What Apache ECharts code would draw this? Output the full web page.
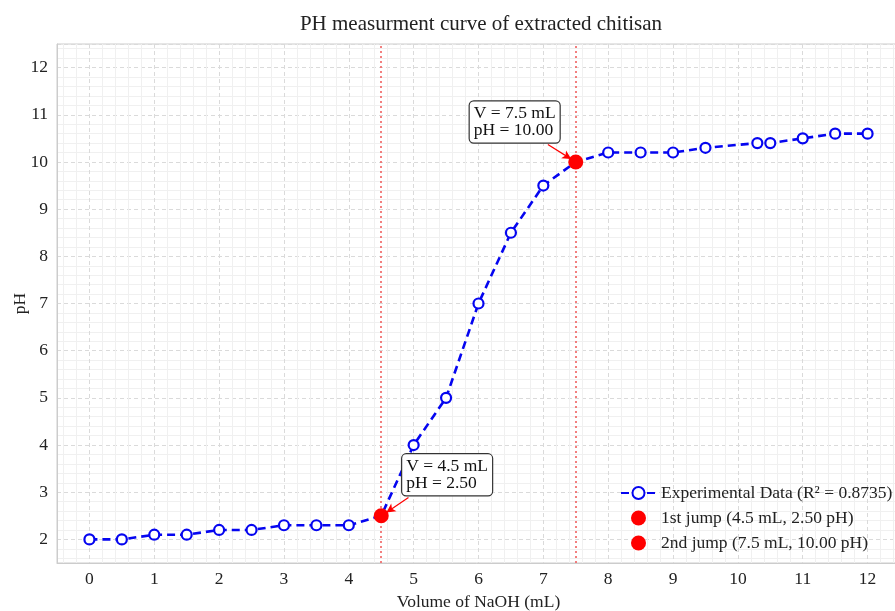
<!DOCTYPE html>
<html>
<head>
<meta charset="utf-8">
<script src="https://cdn.jsdelivr.net/npm/echarts@6/dist/echarts.min.js"></script>
<style>
  html, body { margin: 0; padding: 0; background: #fff; }
  #chart { width: 895px; height: 611px; }
</style>
</head>
<body>
<div id="chart"></div>
<script>
// NaOH volume (mL) and measured pH
const volumes = [0, 0.5, 1, 1.5, 2, 2.5, 3, 3.5, 4, 4.5, 5, 5.5, 6, 6.5, 7, 7.5, 8, 8.5, 9, 9.5, 10.3, 10.5, 11, 11.5, 12];
const phValues = [2.0, 2.0, 2.1, 2.1, 2.2, 2.2, 2.3, 2.3, 2.3, 2.5, 4.0, 5.0, 7.0, 8.5, 9.5, 10.0, 10.2, 10.2, 10.2, 10.3, 10.4, 10.4, 10.5, 10.6, 10.6];

// jump points [volume, pH]
const jump1 = [4.5, 2.5];
const jump2 = [7.5, 10.0];

// arrow anchors (data units): [from, to]
const arrow1 = [[4.92, 2.89], [4.58, 2.57]];
const arrow2 = [[7.07, 10.37], [7.43, 10.06]];

const serif = "'Liberation Serif', 'Times New Roman', serif";
const textColor = "#222";
const fs = 17.5;

let chart = echarts.init(document.getElementById("chart"));

function boxLabel(p, offset) {
  return {
    show: true,
    position: "inside",
    offset: offset,
    formatter: "V = " + p[0].toFixed(1) + " mL\npH = " + p[1].toFixed(2),
    fontFamily: serif,
    fontSize: fs,
    lineHeight: 17,
    color: "#111",
    align: "left",
    backgroundColor: "#fff",
    borderColor: "#333",
    borderWidth: 1.2,
    borderRadius: 4,
    padding: [4, 4, 3, 4],
  };
}

function arrowLine(a) {
  return [
    { coord: a[0], symbol: "none" },
    { coord: a[1], symbol: "arrow", symbolSize: [7, 9] },
  ];
}

let option = {
  animation: false,
  backgroundColor: "#fff",
  title: {
    text: "PH measurment curve of extracted chitisan",
    left: 476,
    textAlign: "center",
    top: 9,
    textStyle: { fontFamily: serif, fontSize: 21, fontWeight: "normal", color: textColor },
  },
  grid: {
    left: 57,
    top: 44,
    right: -5,
    bottom: 48,
    outerBoundsMode: "none",
    containLabel: false,
    show: true,
    borderColor: "#ccc",
    borderWidth: 1,
  },
  legend: {
    orient: "vertical",
    left: 620,
    top: 484,
    padding: 0,
    itemWidth: 35,
    itemHeight: 15,
    itemGap: 7,
    textStyle: { fontFamily: serif, fontSize: fs, color: textColor },
    data: [
      { name: "Experimental Data (R² = 0.8735)" },
      { name: "1st jump (4.5 mL, 2.50 pH)", icon: "circle" },
      { name: "2nd jump (7.5 mL, 10.00 pH)", icon: "circle" },
    ],
  },
  xAxis: {
    type: "value",
    min: -0.5,
    max: 12.5,
    splitNumber: 13,
    name: "Volume of NaOH (mL)",
    nameLocation: "middle",
    nameGap: 30,
    nameTextStyle: { fontFamily: serif, fontSize: fs, color: textColor },
    axisLine: { show: true, onZero: false, lineStyle: { color: "#ccc" } },
    axisTick: { show: false },
    axisLabel: {
      margin: 7,
      fontFamily: serif,
      fontSize: fs,
      color: textColor,
      formatter: (v) => (Number.isInteger(v) ? String(v) : ""),
    },
    splitLine: { show: true, lineStyle: { color: "#dadada", type: [4, 3], width: 1 } },
    minorTick: { show: false, splitNumber: 5 },
    minorSplitLine: { show: true, lineStyle: { color: "#f0f0f0", width: 1 } },
  },
  yAxis: {
    type: "value",
    min: 1.5,
    max: 12.5,
    splitNumber: 11,
    name: "pH",
    nameLocation: "middle",
    nameGap: 28,
    nameMoveOverlap: false,
    nameTextStyle: { fontFamily: serif, fontSize: fs, color: textColor },
    axisLine: { show: true, onZero: false, lineStyle: { color: "#ccc" } },
    axisTick: { show: false },
    axisLabel: {
      margin: 9,
      fontFamily: serif,
      fontSize: fs,
      color: textColor,
      formatter: (v) => (Number.isInteger(v) ? String(v) : ""),
    },
    splitLine: { show: true, lineStyle: { color: "#dadada", type: [4, 3], width: 1 } },
    minorTick: { show: false, splitNumber: 5 },
    minorSplitLine: { show: true, lineStyle: { color: "#f0f0f0", width: 1 } },
  },
  series: [
    {
      name: "Experimental Data (R² = 0.8735)",
      type: "line",
      data: volumes.map((v, i) => [v, phValues[i]]),
      symbol: "circle",
      symbolSize: 10,
      showAllSymbol: true,
      lineStyle: { color: "#0505f0", width: 2.6, type: [8, 5] },
      itemStyle: { color: "#fff", borderColor: "#0505f0", borderWidth: 2.2 },
      z: 3,
      markLine: {
        silent: true,
        symbol: "none",
        label: { show: false },
        lineStyle: { color: "#f06060", type: [2, 3], width: 1.6 },
        data: [{ xAxis: jump1[0] }, { xAxis: jump2[0] }],
      },
    },
    {
      name: "1st jump (4.5 mL, 2.50 pH)",
      type: "scatter",
      data: [jump1],
      symbolSize: 15,
      itemStyle: { color: "#ff0000", opacity: 1 },
      label: boxLabel(jump1, [21, -41]),
      z: 5,
      markLine: {
        silent: true,
        label: { show: false },
        lineStyle: { color: "#ff0000", type: "solid", width: 1.2 },
        data: [arrowLine(arrow1)],
      },
    },
    {
      name: "2nd jump (7.5 mL, 10.00 pH)",
      type: "scatter",
      data: [jump2],
      symbolSize: 15,
      itemStyle: { color: "#ff0000", opacity: 1 },
      label: boxLabel(jump2, [-106, -40]),
      z: 5,
      markLine: {
        silent: true,
        label: { show: false },
        lineStyle: { color: "#ff0000", type: "solid", width: 1.2 },
        data: [arrowLine(arrow2)],
      },
    },
  ],
};

chart.setOption(option);
</script>
</body>
</html>
